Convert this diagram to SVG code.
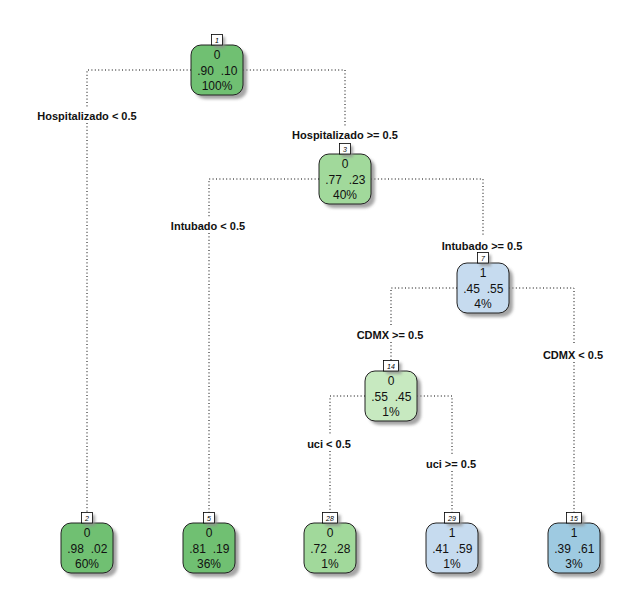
<svg xmlns="http://www.w3.org/2000/svg" width="642" height="611" viewBox="0 0 642 611">
  <style>
    .box { stroke: #222; stroke-width: 1; }
    .shadow { fill: #8f8f8f; opacity: 0.8; filter: url(#soft); }
    .num { fill: #fff; stroke: #000; stroke-width: 0.8; }
    .numtxt { font-family: "Liberation Sans", Arial, sans-serif; font-size: 7px; font-style: italic; text-anchor: middle; fill: #000; }
    .t { font-family: "Liberation Sans", Arial, sans-serif; font-size: 12px; text-anchor: middle; fill: #111; }
    .split { font-family: "Liberation Sans", Arial, sans-serif; font-size: 11px; font-weight: bold; text-anchor: middle; fill: #111; }
    .edge { fill: none; stroke: #000; stroke-width: 1; stroke-dasharray: 1 2.4; }
    .g1 { fill: #70c072; }
    .g2 { fill: #a1d99b; }
    .g3 { fill: #c7e9c0; }
    .b1 { fill: #c6dbef; }
    .b2 { fill: #9ecae1; }
  </style>
  <defs>
    <filter id="soft" x="-20%" y="-20%" width="140%" height="140%">
      <feGaussianBlur stdDeviation="1.6"/>
    </filter>
  </defs>
  <rect width="642" height="611" fill="#fff"/>

  <!-- connectors -->
  <g id="connectors">
    <!-- node 1 -->
    <path class="edge" d="M191 70 H87 V107"/>
    <path class="edge" d="M87 123 V513"/>
    <path class="edge" d="M243 70 H345 V126"/>
    <!-- node 3 -->
    <path class="edge" d="M319 179 H209 V217"/>
    <path class="edge" d="M209 233 V513"/>
    <path class="edge" d="M371 179 H483 V236"/>
    <!-- node 7 -->
    <path class="edge" d="M457 288 H391 V326"/>
    <path class="edge" d="M391 342 V361"/>
    <path class="edge" d="M509 288 H574 V345"/>
    <path class="edge" d="M574 362 V513"/>
    <!-- node 14 -->
    <path class="edge" d="M365 396 H330 V434"/>
    <path class="edge" d="M330 451 V513"/>
    <path class="edge" d="M417 396 H452 V454"/>
    <path class="edge" d="M452 471 V513"/>
  </g>

  <!-- split labels -->
  <g id="split-labels">
    <text class="split" x="87" y="120">Hospitalizado &lt; 0.5</text>
    <text class="split" x="345" y="139">Hospitalizado &gt;= 0.5</text>
    <text class="split" x="208" y="230">Intubado &lt; 0.5</text>
    <text class="split" x="482" y="250">Intubado &gt;= 0.5</text>
    <text class="split" x="390" y="339">CDMX &gt;= 0.5</text>
    <text class="split" x="573" y="359">CDMX &lt; 0.5</text>
    <text class="split" x="329" y="448">uci &lt; 0.5</text>
    <text class="split" x="451" y="468">uci &gt;= 0.5</text>
  </g>

  <!-- node 1 -->
  <g id="node1">
    <rect class="shadow" x="195" y="49" width="52" height="50" rx="10"/>
    <rect class="box g1" x="191" y="45" width="52" height="50" rx="10"/>
    <rect class="shadow" x="214" y="37" width="11" height="11"/>
    <rect class="num" x="211.5" y="34.5" width="11" height="10.5"/>
    <text class="numtxt" x="217" y="42.5">1</text>
    <text class="t" x="217" y="59">0</text>
    <text class="t" x="205.5" y="75">.90</text>
    <text class="t" x="229" y="75">.10</text>
    <text class="t" x="217" y="90">100%</text>
  </g>

  <!-- node 3 -->
  <g id="node3">
    <rect class="shadow" x="323" y="158" width="52" height="50" rx="10"/>
    <rect class="box g2" x="319" y="154" width="52" height="50" rx="10"/>
    <rect class="shadow" x="342" y="146" width="11" height="11"/>
    <rect class="num" x="339.5" y="143.5" width="11" height="10.5"/>
    <text class="numtxt" x="345" y="151.5">3</text>
    <text class="t" x="345" y="168">0</text>
    <text class="t" x="333.5" y="184">.77</text>
    <text class="t" x="357" y="184">.23</text>
    <text class="t" x="345" y="199">40%</text>
  </g>

  <!-- node 7 -->
  <g id="node7">
    <rect class="shadow" x="461" y="267" width="52" height="50" rx="10"/>
    <rect class="box b1" x="457" y="263" width="52" height="50" rx="10"/>
    <rect class="shadow" x="480" y="255" width="11" height="11"/>
    <rect class="num" x="477.5" y="252.5" width="11" height="10.5"/>
    <text class="numtxt" x="483" y="260.5">7</text>
    <text class="t" x="483" y="277">1</text>
    <text class="t" x="471.5" y="293">.45</text>
    <text class="t" x="495" y="293">.55</text>
    <text class="t" x="483" y="308">4%</text>
  </g>

  <!-- node 14 -->
  <g id="node14">
    <rect class="shadow" x="369" y="375" width="52" height="50" rx="10"/>
    <rect class="box g3" x="365" y="371" width="52" height="50" rx="10"/>
    <rect class="shadow" x="386.5" y="363" width="15" height="11"/>
    <rect class="num" x="383.5" y="360.5" width="15" height="10.5"/>
    <text class="numtxt" x="391" y="368.5">14</text>
    <text class="t" x="391" y="385">0</text>
    <text class="t" x="379.5" y="401">.55</text>
    <text class="t" x="403" y="401">.45</text>
    <text class="t" x="391" y="416">1%</text>
  </g>

  <!-- node 2 (leaf) -->
  <g id="node2">
    <rect class="shadow" x="65" y="527" width="52" height="50" rx="10"/>
    <rect class="box g1" x="61" y="523" width="52" height="50" rx="10"/>
    <rect class="shadow" x="84" y="515" width="11" height="11"/>
    <rect class="num" x="81.5" y="512.5" width="11" height="10.5"/>
    <text class="numtxt" x="87" y="520.5">2</text>
    <text class="t" x="87" y="537">0</text>
    <text class="t" x="75.5" y="553">.98</text>
    <text class="t" x="99" y="553">.02</text>
    <text class="t" x="87" y="568">60%</text>
  </g>

  <!-- node 5 (leaf) -->
  <g id="node5">
    <rect class="shadow" x="187" y="527" width="52" height="50" rx="10"/>
    <rect class="box g1" x="183" y="523" width="52" height="50" rx="10"/>
    <rect class="shadow" x="206" y="515" width="11" height="11"/>
    <rect class="num" x="203.5" y="512.5" width="11" height="10.5"/>
    <text class="numtxt" x="209" y="520.5">5</text>
    <text class="t" x="209" y="537">0</text>
    <text class="t" x="197.5" y="553">.81</text>
    <text class="t" x="221" y="553">.19</text>
    <text class="t" x="209" y="568">36%</text>
  </g>

  <!-- node 28 (leaf) -->
  <g id="node28">
    <rect class="shadow" x="308" y="527" width="52" height="50" rx="10"/>
    <rect class="box g2" x="304" y="523" width="52" height="50" rx="10"/>
    <rect class="shadow" x="325.5" y="515" width="15" height="11"/>
    <rect class="num" x="322.5" y="512.5" width="15" height="10.5"/>
    <text class="numtxt" x="330" y="520.5">28</text>
    <text class="t" x="330" y="537">0</text>
    <text class="t" x="318.5" y="553">.72</text>
    <text class="t" x="342" y="553">.28</text>
    <text class="t" x="330" y="568">1%</text>
  </g>

  <!-- node 29 (leaf) -->
  <g id="node29">
    <rect class="shadow" x="430" y="527" width="52" height="50" rx="10"/>
    <rect class="box b1" x="426" y="523" width="52" height="50" rx="10"/>
    <rect class="shadow" x="447.5" y="515" width="15" height="11"/>
    <rect class="num" x="444.5" y="512.5" width="15" height="10.5"/>
    <text class="numtxt" x="452" y="520.5">29</text>
    <text class="t" x="452" y="537">1</text>
    <text class="t" x="440.5" y="553">.41</text>
    <text class="t" x="464" y="553">.59</text>
    <text class="t" x="452" y="568">1%</text>
  </g>

  <!-- node 15 (leaf) -->
  <g id="node15">
    <rect class="shadow" x="552" y="527" width="52" height="50" rx="10"/>
    <rect class="box b2" x="548" y="523" width="52" height="50" rx="10"/>
    <rect class="shadow" x="569.5" y="515" width="15" height="11"/>
    <rect class="num" x="566.5" y="512.5" width="15" height="10.5"/>
    <text class="numtxt" x="574" y="520.5">15</text>
    <text class="t" x="574" y="537">1</text>
    <text class="t" x="562.5" y="553">.39</text>
    <text class="t" x="586" y="553">.61</text>
    <text class="t" x="574" y="568">3%</text>
  </g>
</svg>
